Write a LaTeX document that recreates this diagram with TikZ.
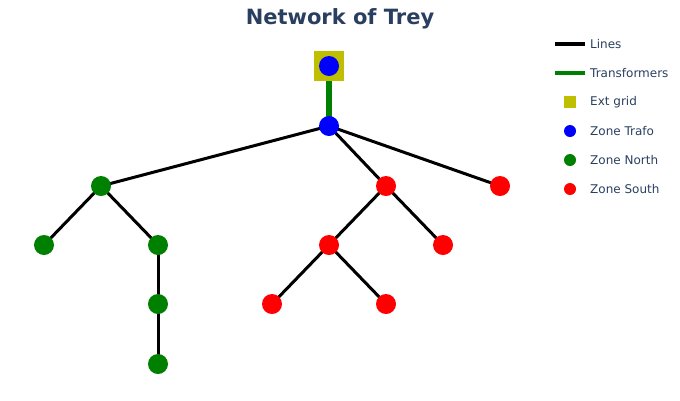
\documentclass[tikz,border=0pt]{standalone}
\usepackage{fontspec}
\setmainfont{DejaVu Sans}
\usetikzlibrary{backgrounds}
\begin{document}
\definecolor{titlecol}{HTML}{2A3F5F}
\definecolor{gridcol}{HTML}{BFBF00}
\definecolor{trafo}{HTML}{008000}
\definecolor{north}{HTML}{008000}
\definecolor{south}{HTML}{FF0000}
\definecolor{zone}{HTML}{0000FF}
\begin{tikzpicture}[x=1pt,y=-1pt,
  bus/.style={circle,inner sep=0pt,minimum size=20pt,fill=#1},
  extgrid/.style={rectangle,inner sep=0pt,minimum size=30pt,fill=gridcol},
  line/.style={draw=black,line width=3pt},
  tline/.style={draw=trafo,line width=6pt},
  legtext/.style={anchor=west,text=titlecol,font=\fontsize{12}{14}\selectfont,inner sep=0pt},
  legdot/.style={circle,inner sep=0pt,minimum size=12pt,fill=#1}]
\useasboundingbox (0,0) rectangle (680,400);
% title
\node[text=titlecol,font=\bfseries\fontsize{21}{25}\selectfont] (title) at (340,19) {Network of Trey};
% external grid
\node[extgrid] (eg) at (329,66) {};
% buses
\node[bus=zone] (b0) at (329,66) {};
\node[bus=zone] (b1) at (329,126) {};
\node[bus=north] (n1) at (101,186) {};
\node[bus=north] (n2) at (44,245) {};
\node[bus=north] (n3) at (158,245) {};
\node[bus=north] (n4) at (158,304) {};
\node[bus=north] (n5) at (158,364) {};
\node[bus=south] (s1) at (386,186) {};
\node[bus=south] (s2) at (500,186) {};
\node[bus=south] (s3) at (329,245) {};
\node[bus=south] (s4) at (443,245) {};
\node[bus=south] (s5) at (272,304) {};
\node[bus=south] (s6) at (386,304) {};
% branches, kept underneath the bus markers
\begin{pgfonlayer}{background}
\path[tline] (b0.center) -- (b1.center);
\path[line] (b1.center) -- (n1.center);
\path[line] (b1.center) -- (s1.center);
\path[line] (b1.center) -- (s2.center);
\path[line] (n1.center) -- (n2.center);
\path[line] (n1.center) -- (n3.center);
\path[line] (n3.center) -- (n4.center);
\path[line] (n4.center) -- (n5.center);
\path[line] (s1.center) -- (s3.center);
\path[line] (s1.center) -- (s4.center);
\path[line] (s3.center) -- (s5.center);
\path[line] (s3.center) -- (s6.center);
\end{pgfonlayer}
% legend
\coordinate (l1a) at (555,44); \coordinate (l1b) at (585,44);
\coordinate (l2a) at (555,73); \coordinate (l2b) at (585,73);
\draw[black,line width=4pt] (l1a) -- (l1b);
\draw[trafo,line width=4pt] (l2a) -- (l2b);
\node[rectangle,inner sep=0pt,minimum size=12pt,fill=gridcol] (lg) at (570,102) {};
\node[legdot=zone] (lz) at (570,131) {};
\node[legdot=north] (ln) at (570,160) {};
\node[legdot=south] (ls) at (570,189) {};
\node[legtext] (t1) at (590,44) {Lines};
\node[legtext] (t2) at (590,73) {Transformers};
\node[legtext] (t3) at (590,102) {Ext grid};
\node[legtext] (t4) at (590,131) {Zone Trafo};
\node[legtext] (t5) at (590,160) {Zone North};
\node[legtext] (t6) at (590,189) {Zone South};
\end{tikzpicture}
\end{document}
